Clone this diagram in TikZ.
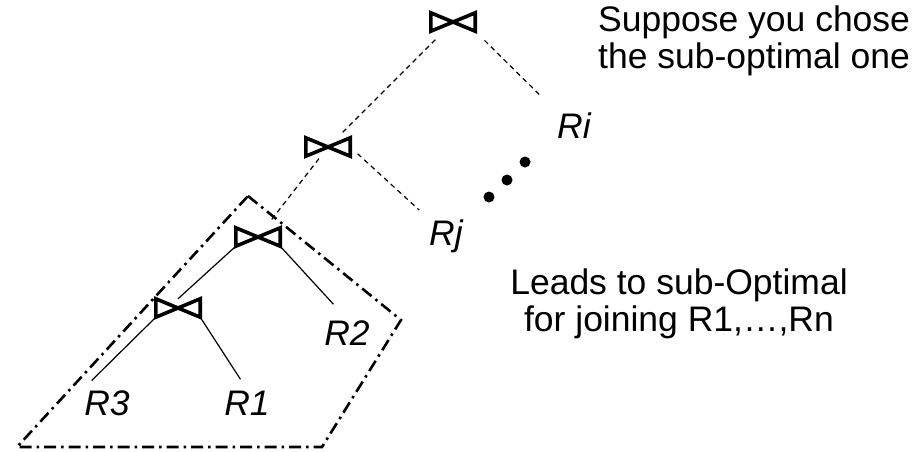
\documentclass[tikz,border=0pt]{standalone}
\usepackage{fontspec}
\setmainfont{Liberation Sans}

\begin{document}
\begin{tikzpicture}[
        x=1pt, y=-1pt,
        font=\fontsize{35.5}{36.5}\selectfont,
        jn/.style={minimum width=44pt, minimum height=18pt, inner sep=0pt},
        bowtie/.style={line width=3.6pt},
        rel/.style={font=\fontsize{35.5}{36.5}\selectfont\itshape, inner sep=1pt, anchor=base},
        note/.style={align=center, inner sep=0pt},
        branch/.style={line width=1.2pt},
        plan/.style={branch, dash pattern=on 5pt off 4pt},
        boxline/.style={line width=2.6pt, dash pattern=on 12pt off 5pt on 2.5pt off 5pt}
    ]
        \useasboundingbox (0,0) rectangle (921,451);

        % Join operators
        \node[jn] (j1) at (453,22) {};
        \node[jn] (j2) at (328,147) {};
        \node[jn] (j3) at (258,237) {};
        \node[jn] (j4) at (178,308) {};
        \foreach \n in {j1,j2,j3,j4}
            \draw[bowtie] (\n.north west) -- (\n.south east) -- (\n.north east) -- (\n.south west) -- cycle;

        % Relations
        \node[rel] (ri) at (574,138) {Ri};
        \node[rel] (rj) at (446,245) {Rj};
        \node[rel] (r2) at (347,345) {R2};
        \node[rel] (r3) at (107,415) {R3};
        \node[rel] (r1) at (247,415) {R1};

        % Notes
        \node[note, align=left, anchor=north west] (hint) at (598,6) {Suppose you chose\\the sub-optimal one};
        \node[note, anchor=north] (effect) at (679,269) {Leads to sub-Optimal\\for joining R1,…,Rn};

        % Upper plan (dashed)
        \draw[plan, shorten <=12pt, shorten >=6pt] (j1) -- (j2);
        \draw[plan, shorten <=13pt, shorten >=20pt] (j1.south east) -- (ri.north west);
        \draw[plan, shorten <=3pt, shorten >=10pt] (j2) -- (j3);
        \draw[plan, shorten <=10pt, shorten >=12pt] (j2.east) -- (rj.north west);

        % Sub-plan (solid)
        \draw[branch] (j3.south west) -- (j4.north);
        \draw[branch, shorten >=20pt] (j3.south east) -- (r2.north);
        \draw[branch, shorten >=12pt] (j4.south west) -- (r3.north west);
        \draw[branch, shorten >=12pt] (j4.south east) -- (r1.north);

        % Remaining relations
        \foreach \x/\y in {489/197, 507/180, 525/162}
            \fill (\x,\y) circle (5.5pt);

        % Optimal sub-plan region
        \draw[boxline] (248,196) -- (401,320) -- (322,447) -- (17,447) -- cycle;
    \end{tikzpicture}
\end{document}
